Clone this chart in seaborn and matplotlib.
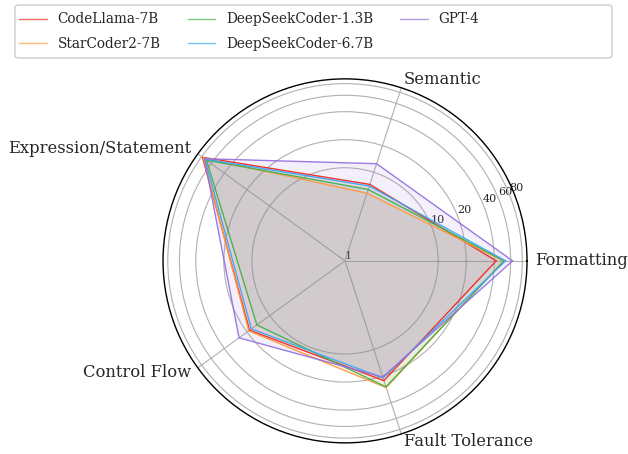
import numpy as np
import pandas as pd
import matplotlib
matplotlib.use("Agg")
import matplotlib.pyplot as plt
from matplotlib.patches import FancyBboxPatch
import seaborn as sns

# Radar chart values (log radial scale)
categories = ["Formatting", "Semantic", "Expression/Statement", "Control Flow", "Fault Tolerance"]
models = ["CodeLlama-7B", "StarCoder2-7B", "DeepSeekCoder-1.3B", "DeepSeekCoder-6.7B", "GPT-4"]
codellama = [42, 7.3, 78, 18.5, 22.5]
starcoder = [50, 5.8, 76, 19, 27]
dsc_13 = [51, 6.4, 69, 14.8, 26.5]
dsc_67 = [53, 7.0, 72.5, 17.5, 21]
gpt4 = [63, 12.5, 73.5, 25.5, 20.5]
rticks = [1, 10, 20, 40, 60, 80]

colors = ["#f02a22", "#ff9a40", "#48b048", "#3aa8f2", "#9673e0"]

sns.set_style("whitegrid", rc={"axes.edgecolor": "black", "grid.color": "#b0b0b0",
                               "grid.linewidth": 0.8})
plt.rcParams["font.family"] = ["DejaVu Serif"]

series = [codellama, starcoder, dsc_13, dsc_67, gpt4]
angles = np.linspace(0, 2 * np.pi, len(categories), endpoint=False)

rows = []
for m, vals in zip(models, series):
    for i in range(len(categories) + 1):
        k = i % len(categories)
        rows.append({"model": m, "theta": angles[k] if i < len(categories) else 2 * np.pi,
                     "value": vals[k]})
df = pd.DataFrame(rows)

fig = plt.figure(figsize=(6.28, 4.54), dpi=100)
ax = fig.add_axes([0.2596, 0.0245, 0.5796, 0.8018], projection="polar")

sns.lineplot(data=df, x="theta", y="value", hue="model", hue_order=models,
             palette=colors, sort=False, estimator=None, linewidth=1, alpha=0.95, ax=ax)
for m, c in zip(models, colors):
    d = df[df["model"] == m]
    ax.fill(d["theta"], d["value"], color=c, alpha=0.1, linewidth=0)

ax.set_rscale("log")
ax.set_rlim(1, 90)
ax.set_yticks(rticks)
ax.set_yticklabels([str(t) for t in rticks], fontsize=8)
ax.yaxis.set_minor_locator(matplotlib.ticker.NullLocator())
ax.set_rlabel_position(22.5)
ax.set_xticks(angles)
ax.set_xticklabels(categories, fontsize=11.8)
ax.tick_params(axis="x", pad=-4.5)
for lab, a in zip(ax.get_xticklabels(), angles):
    c = np.cos(a)
    lab.set_horizontalalignment("left" if c > 0.01 else ("right" if c < -0.01 else "center"))
    lab.set_verticalalignment("center")
ax.set_xlabel("")
ax.set_ylabel("")
ax.spines["polar"].set_color("black")
ax.spines["polar"].set_linewidth(1)

# legend: plain entries plus a wide rounded frame
ax.legend_.remove()
W, H = 628, 454
handles = [plt.Line2D([], [], color=c, linewidth=1, alpha=0.7) for c in colors]
fig.legend(handles, models, loc="upper left", bbox_to_anchor=(14 / W, 1 - 7 / H),
           borderaxespad=0, ncol=3, fontsize=9.8, frameon=False,
           handlelength=2.0, handletextpad=0.8, columnspacing=2.0,
           borderpad=0.4, labelspacing=0.75)
fig.patches.append(FancyBboxPatch((15 / W, 1 - 58 / H), 597 / W, 53 / H,
                                  boxstyle="round,pad=0,rounding_size=0.006",
                                  transform=fig.transFigure, facecolor="white",
                                  edgecolor="#cccccc", linewidth=1, zorder=-1))

fig.savefig("out.png", dpi=100)
